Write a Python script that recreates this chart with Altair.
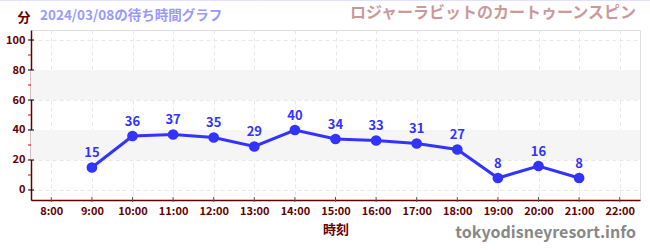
import altair as alt
import pandas as pd

hours = [9, 10, 11, 12, 13, 14, 15, 16, 17, 18, 19, 20, 21]
waits = [15, 36, 37, 35, 29, 40, 34, 33, 31, 27, 8, 16, 8]
x_ticks = list(range(8, 23))
y_ticks = [0, 20, 40, 60, 80, 100]
y_minor = [10, 30, 50, 70, 90]
band_lo = [20, 60]
band_hi = [40, 80]

W, H = 609, 170
FONT = "Noto Sans CJK JP"
AXC = "#660000"
BLUE = "#3333ff"

df = pd.DataFrame({"h": hours, "w": waits})
bands = pd.DataFrame({"lo": band_lo, "hi": band_hi})
minor = pd.DataFrame({"m": y_minor})
ymaj = pd.DataFrame({"m": y_ticks})
xt = pd.DataFrame({"h": x_ticks})

xs = alt.Scale(domain=[7.5, 22.5], nice=False, zero=False)
ys = alt.Scale(domain=[-6.67, 106.67], nice=False, zero=False)

xaxis = alt.Axis(values=x_ticks, labelExpr="datum.value + ':00'", title="時刻",
                 grid=True, gridDash=[4, 3], gridColor="#e8e8e8", labelOverlap=False,
                 domainColor=AXC, domainWidth=1.5, ticks=False,
                 labelColor=AXC, labelFont=FONT, labelFontWeight="bold", labelFontSize=11,
                 titleColor=AXC, titleFont=FONT, titleFontWeight="bold", titleFontSize=13,
                 titlePadding=7, labelPadding=5)
yaxis = alt.Axis(values=y_ticks, title="分", titleAngle=0, titleX=-14, titleY=-13,
                 titleAlign="left", titleBaseline="middle", labelOverlap=False,
                 grid=True, gridDash=[4, 3], gridColor="#e8e8e8",
                 domainColor=AXC, domainWidth=1.5, ticks=False,
                 labelColor=AXC, labelFont=FONT, labelFontWeight="bold", labelFontSize=11,
                 titleColor=AXC, titleFont=FONT, titleFontWeight="bold", titleFontSize=13,
                 labelPadding=6)

band = alt.Chart(bands).mark_rect(color="#f5f5f5").encode(
    x=alt.value(0), x2=alt.value(W),
    y=alt.Y("lo:Q", scale=ys, axis=yaxis), y2="hi:Q")

minor_ticks = alt.Chart(minor).mark_rule(color="#dd0000", strokeWidth=1).encode(
    x=alt.value(-3), x2=alt.value(0), y=alt.Y("m:Q", scale=ys, axis=yaxis))
major_ticks = alt.Chart(ymaj).mark_rule(color="#000000", strokeWidth=1).encode(
    x=alt.value(-3), x2=alt.value(3), y=alt.Y("m:Q", scale=ys, axis=yaxis))
x_tick_marks = alt.Chart(xt).mark_rule(color="#555555", strokeWidth=1).encode(
    x=alt.X("h:Q", scale=xs, axis=xaxis), y=alt.value(H - 3), y2=alt.value(H + 2))

base = alt.Chart(df).encode(x=alt.X("h:Q", scale=xs, axis=xaxis),
                            y=alt.Y("w:Q", scale=ys, axis=yaxis))
line = base.mark_line(color=BLUE, strokeWidth=3)
pts = base.mark_circle(color=BLUE, size=115, opacity=1)
lbl = base.mark_text(color=BLUE, dy=-14, fontSize=13, fontWeight="bold", font=FONT).encode(text="w:Q")

date_txt = alt.Chart(pd.DataFrame({"t": ["2024/03/08の待ち時間グラフ"]})).mark_text(
    color="#9999ff", fontSize=13.5, fontWeight="bold", font=FONT, align="left", baseline="middle"
).encode(x=alt.value(9), y=alt.value(-14), text="t:N")
name_txt = alt.Chart(pd.DataFrame({"t": ["ロジャーラビットのカートゥーンスピン"]})).mark_text(
    color="#cc9999", fontSize=16, fontWeight="bold", font=FONT, align="right", baseline="middle"
).encode(x=alt.value(W - 4), y=alt.value(-17), text="t:N")
wm_txt = alt.Chart(pd.DataFrame({"t": ["tokyodisneyresort.info"]})).mark_text(
    color="#888888", fontSize=16, fontWeight="bold", font=FONT, align="right", baseline="middle"
).encode(x=alt.value(W - 4), y=alt.value(H + 33), text="t:N")
topline = alt.Chart(pd.DataFrame({"a": [0]})).mark_rule(color="#e0e0ff", strokeWidth=1).encode(
    x=alt.value(-31), x2=alt.value(W + 10), y=alt.value(-29.5))

chart = alt.layer(band, line, pts, lbl, minor_ticks, major_ticks, x_tick_marks,
                  date_txt, name_txt, wm_txt, topline).properties(
    width=W, height=H, autosize=alt.AutoSizeParams(type="none"),
    padding={"left": 31, "top": 30, "right": 10, "bottom": 50}
).configure_view(stroke=None).configure(background="white")

chart.save("out.html", embed_options={"renderer": "svg", "actions": False})
